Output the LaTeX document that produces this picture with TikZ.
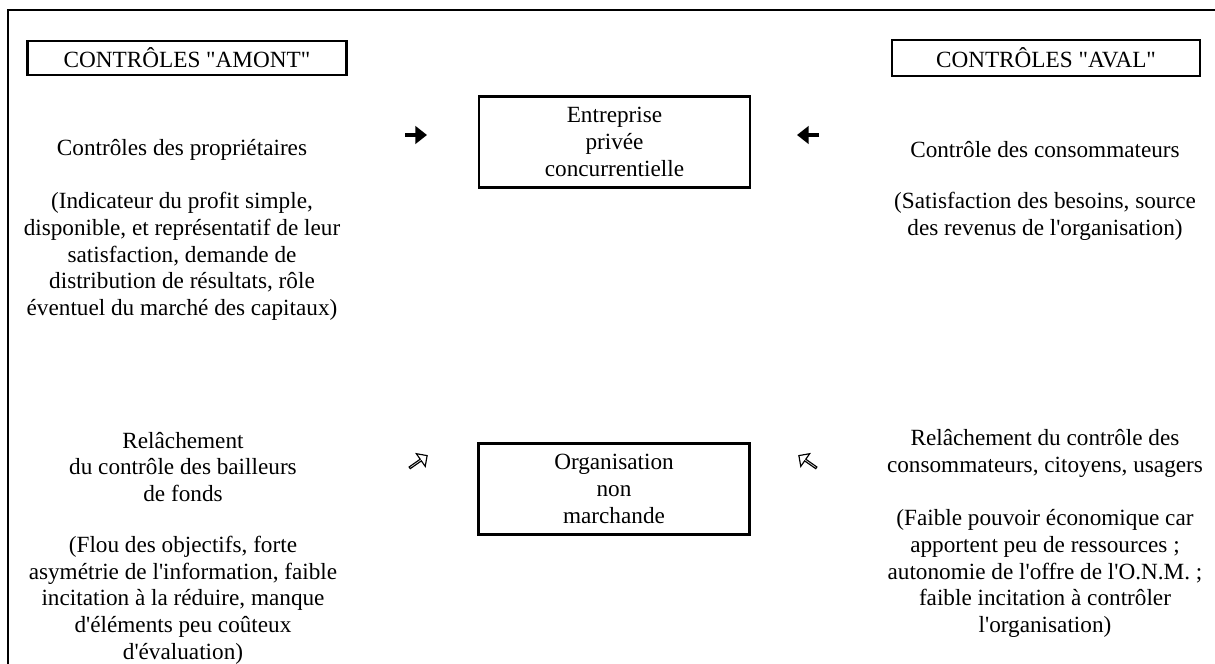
\documentclass[tikz,border=0pt]{standalone}
\usepackage{fontspec}
\setmainfont{Liberation Serif}[Ligatures=TeXOff]
\usetikzlibrary{arrows.meta,shapes.arrows}
\begin{document}
\begin{tikzpicture}[x=0.517pt,y=-0.517pt,
  font=\fontsize{12}{13.8}\selectfont,
  txt/.style={align=center,inner sep=0pt},
  hdrbox/.style={draw,line width=1.3pt,inner sep=0pt,align=center},
  orgbox/.style={draw,line width=1.3pt,inner sep=0pt,align=center,minimum width=140pt,minimum height=47pt},
  solidarrow/.style={line width=2.4pt,-{Triangle[length=6pt,width=9pt]}},
  hollowarrow/.style={single arrow,draw,line width=0.6pt,inner sep=0pt,
    minimum height=11pt,minimum width=8pt,single arrow head extend=2pt}]
\useasboundingbox (0,0) rectangle (1215,664);
% frame (top and left edges)
\draw[line width=1.3pt] (8,664) -- (8,10) -- (1215,10);

% column headings
\node[hdrbox,minimum width=165pt,minimum height=17.5pt] (amont) at (187,58) {CONTRÔLES "AMONT"};
\node[hdrbox,minimum width=159pt,minimum height=18.5pt] (aval) at (1046,58) {CONTRÔLES "AVAL"};

% central organisations
\node[orgbox] (epc) at (614.5,142) {Entreprise\\privée\\concurrentielle};
\node[orgbox] (onm) at (614,489) {Organisation\\non\\marchande};

% upstream / downstream arrows
\coordinate (a1s) at (405,135); \coordinate (a1e) at (427,135);
\draw[solidarrow] (a1s) -- (a1e);
\coordinate (a2s) at (819,135); \coordinate (a2e) at (797,135);
\draw[solidarrow] (a2s) -- (a2e);
\node[hollowarrow,rotate=35] (h1) at (418,462) {};
\node[hollowarrow,rotate=145] (h2) at (808,462) {};

% upper left: owners
\node[txt] (own) at (182,150) {Contrôles des propriétaires};
\node[txt] (ownd) at (182,256.5) {(Indicateur du profit simple,\\disponible, et représentatif de leur\\satisfaction, demande de\\distribution de résultats, rôle\\éventuel du marché des capitaux)};

% upper right: consumers
\node[txt] (cons) at (1045,150) {Contrôle des consommateurs};
\node[txt] (consd) at (1045,216.5) {(Satisfaction des besoins, source\\des revenus de l'organisation)};

% lower left: funders
\node[txt] (fund) at (183,467) {Relâchement\\du contrôle des bailleurs\\de fonds};
\node[txt] (fundd) at (183,600) {(Flou des objectifs, forte\\asymétrie de l'information, faible\\incitation à la réduire, manque\\d'éléments peu coûteux\\d'évaluation)};

% lower right: users
\node[txt] (usr) at (1045,453.5) {Relâchement du contrôle des\\consommateurs, citoyens, usagers};
\node[txt] (usrd) at (1045,573.5) {(Faible pouvoir économique car\\apportent peu de ressources ;\\autonomie de l'offre de l'O.N.M. ;\\faible incitation à contrôler\\l'organisation)};
\end{tikzpicture}
\end{document}
